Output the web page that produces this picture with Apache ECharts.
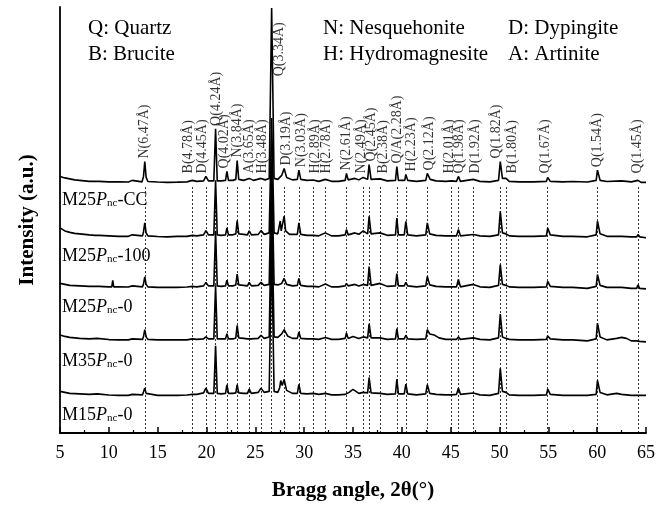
<!DOCTYPE html>
<html>
<head>
<meta charset="utf-8">
<script src="https://cdn.jsdelivr.net/npm/echarts@6/dist/echarts.min.js"></script>
<style>html,body{margin:0;padding:0;background:#fff}#c{width:658px;height:506px}</style>
</head>
<body>
<div id="c"></div>
<script>
// ---------- DATA ----------
const xTicks = [5, 10, 15, 20, 25, 30, 35, 40, 45, 50, 55, 60, 65];
const sampleNames = ['-CC', '-100', '-0', '-0', '-0'];
const samplePrefix = ['M25', 'M25', 'M25', 'M35', 'M15'];
const sampleOffsets = [253, 198, 147, 94, 38];   // vertical stacking offsets (a.u.)

const peakLabels = ['N(6.47Å)','B(4.78Å)','D(4.45Å)','Q(4.24Å)','Q(4.02Å)','N(3.84Å)','A(3.65Å)','H(3.48Å)','Q(3.34Å)',
  'D(3.19Å)','N(3.03Å)','H(2.89Å)','H(2.78Å)','N(2.61Å)','N(2.49Å)','Q(2.45Å)','B(2.38Å)','Q/A(2.28Å)','H(2.23Å)',
  'Q(2.12Å)','H(2.01Å)','Q(1.98Å)','D(1.92Å)','Q(1.82Å)','B(1.80Å)','Q(1.67Å)','Q(1.54Å)','Q(1.45Å)'];
const peakAngles = [13.68,18.55,19.94,20.93,22.09,23.14,24.37,25.58,26.67,27.95,29.46,30.92,32.17,34.33,36.04,36.65,37.77,
  39.49,40.41,42.61,45.07,45.79,47.31,50.08,50.67,54.94,60.03,64.18];

const legendLines = [['Q: Quartz','N: Nesquehonite','D: Dypingite'],['B: Brucite','H: Hydromagnesite','A: Artinite']];

const traceCC = [[5,6],[5.5,4.5],[6,3.5],[6.5,2.5],[7,2],[7.5,1.5],[8,1],[8.6,1],[8.8,2.5],[9,1],[10,0.5],[11,0.5],[12,0.3],[12.4,2],[12.6,0.5],[13.4,0.5],[13.55,6],[13.68,21],[13.82,5],[14,0.8],[15,0.3],[16,0],[17,0.2],[18,0.5],[18.55,2],[19,1],[19.7,1.5],[19.94,6],[20.2,1.5],[20.75,1.5],[20.93,54],[21.1,1.5],[21.5,1.5],[21.95,2],[22.09,11],[22.25,2],[22.7,2],[23.0,3],[23.14,22],[23.3,3],[23.8,2],[24.37,4],[24.8,2],[25.2,3],[25.58,4],[26,2.5],[26.42,4],[26.67,176],[26.92,4],[27.3,3],[27.7,7],[27.95,14],[28.2,5],[28.8,2.5],[29.3,3],[29.46,12.3],[29.65,3],[30.3,2],[30.92,2.3],[31.5,1],[32.17,3],[32.8,1],[33.5,1],[34.2,2],[34.33,9],[34.5,2.5],[35.2,4],[35.6,2.5],[36.04,5],[36.5,3],[36.65,18],[36.85,3],[37.77,3.5],[38.5,1.5],[39.35,2],[39.49,16],[39.65,2],[40.3,2],[40.41,8],[40.6,2],[41.5,1],[42.45,2],[42.61,9],[42.9,3],[43.5,1.5],[44.5,1],[45.07,1.5],[45.6,1],[45.79,6],[46,1],[47.31,3],[48,1],[49,0.5],[49.9,2],[50.08,21],[50.3,4],[50.67,4],[51,1],[52,0.5],[53.5,0.5],[54.8,1],[54.94,5],[55.2,1],[56.5,0.5],[57.5,0.8],[59,0.3],[59.9,2],[60.03,12.3],[60.3,2],[61,0.8],[62.5,1.5],[63.5,0.5],[64.18,2],[64.5,0],[65,0]];
const trace100 = [[5,9],[5.5,6],[6,4.5],[6.5,3.5],[7,3],[7.5,2.5],[8,2],[8.6,1.5],[8.8,3],[9,1.5],[10,1],[11,0.5],[12,0.5],[12.4,2],[12.6,0.5],[13.45,1],[13.55,5],[13.68,14],[13.82,4],[14,1],[15,0.3],[16,0],[17,0.5],[18,0.5],[18.55,1.5],[19,1],[19.7,2],[19.94,6.3],[20.2,2],[20.75,2],[20.93,57],[21.1,2],[21.5,1.5],[21.95,2],[22.09,9],[22.25,2],[22.7,2],[23.0,3],[23.14,16.3],[23.3,3],[23.8,2.5],[24.2,2],[24.37,6],[24.6,2],[25.3,2.5],[25.58,6.3],[25.9,2.5],[26.42,4],[26.67,120],[26.92,4],[27.3,3],[27.45,5],[27.55,16],[27.65,6],[27.8,7],[27.95,21],[28.1,6],[28.5,2.5],[29.3,2.5],[29.46,14],[29.65,2.5],[30.3,1.5],[30.92,1.5],[31.5,1],[32.17,4],[32.8,1],[33.5,1],[34.2,2],[34.33,7.3],[34.5,2],[35.2,4],[35.6,2.5],[36.04,6],[36.5,3],[36.65,20.7],[36.85,3],[37.77,4],[38.5,1.5],[39.35,2],[39.49,19],[39.65,2],[40.25,2],[40.41,15.7],[40.6,2],[41.5,1],[42.45,2],[42.61,14],[42.85,3],[43.5,1.5],[44.5,1],[45.07,1],[45.6,1],[45.79,7.3],[46,1],[47.31,2.3],[48,1],[49,0.5],[49.9,2],[50.08,25.7],[50.3,4],[50.67,3],[51,1],[52,0.5],[53.5,0.5],[54.8,1],[54.94,9],[55.2,2],[56.5,0.5],[57.5,0.5],[59,0],[59.9,2],[60.03,15.7],[60.3,3],[61,0.5],[62.5,0.5],[63.5,0],[64.05,0],[64.18,2.3],[64.35,0],[65,-1]];
const traceM25 = [[5,4],[5.5,3],[6,2],[7,1.5],[8,1],[8.6,1],[8.8,2],[9,1],[10,0.5],[10.3,0.5],[10.4,7],[10.5,0.5],[11,0.5],[12,0.3],[12.4,1.5],[12.6,0.3],[13.45,0.5],[13.55,3.5],[13.68,10.7],[13.82,3],[14,0.5],[15,0],[16,0],[17,0],[18,0.3],[18.55,1],[19,0.5],[19.7,1.5],[19.94,5],[20.2,1.5],[20.75,1.5],[20.93,57],[21.1,1.5],[21.5,1],[21.95,1.5],[22.09,7.3],[22.25,1.5],[22.7,1.5],[23.0,2.5],[23.14,13.3],[23.3,2.5],[23.8,2],[24.2,1.5],[24.37,5],[24.6,1.5],[25.3,2],[25.58,5],[25.9,2],[26.42,3],[26.67,130],[26.92,3],[27.3,2.5],[27.7,4],[27.95,9],[28.2,3],[28.8,1.5],[29.3,2],[29.46,9],[29.65,2],[30.3,1],[30.92,1],[31.5,0.5],[32.17,3.3],[32.8,0.5],[33.5,0.5],[34.2,1.5],[34.33,4],[34.5,1.5],[35.2,3],[35.6,1.5],[36.04,3],[36.5,2],[36.65,21],[36.85,2],[37.77,4],[38.5,1],[39.35,1.5],[39.49,14],[39.65,1.5],[40.25,1.5],[40.41,5],[40.6,1.5],[41.5,0.5],[42.45,1.5],[42.61,11],[42.85,2.5],[43.5,1],[44.5,0.5],[45.07,0.5],[45.6,0.5],[45.79,8],[46,0.5],[47.31,3],[48,0.5],[49,0],[49.9,2],[50.08,23],[50.3,3],[50.67,2],[51,0.5],[52,0],[53.5,0],[54.8,0.5],[54.94,6],[55.2,1],[56.5,0],[57.5,0],[59,-1],[59.9,1],[60.03,13],[60.3,2],[61,0],[62.5,0],[63.5,-1],[64.05,-1],[64.18,2.5],[64.35,-1],[65,-1.5]];
const traceM35 = [[5,5],[5.5,3.5],[6,2.5],[7,1.5],[8,1],[8.8,1.5],[9,0.5],[10,0.3],[11,0],[12,0],[12.4,1],[12.6,0],[13.45,0.5],[13.55,3.5],[13.68,10.3],[13.82,3],[14,0.5],[15,0],[16,0],[17,0],[18,0],[18.55,1],[19,0.5],[19.7,1],[19.94,3],[20.2,1],[20.75,1],[20.93,55],[21.1,1],[21.5,1],[21.95,1],[22.09,6.3],[22.25,1],[22.7,1],[23.0,2],[23.14,14.7],[23.3,2],[23.8,1.5],[24.2,1],[24.37,3],[24.6,1],[25.3,1.5],[25.58,4.7],[25.9,1.5],[26.42,3],[26.67,140],[26.92,3],[27.3,2.5],[27.7,6],[27.95,10.3],[28.3,4],[28.8,1.5],[29.3,1.5],[29.46,8],[29.65,1.5],[30.3,1],[30.92,1],[31.5,0.5],[32.17,2.3],[32.8,0.5],[33.5,0.5],[34.2,1.5],[34.33,7],[34.5,1.5],[35.0,3.5],[35.6,1.5],[36.04,3],[36.5,2],[36.65,16.3],[36.85,2],[37.77,2],[38.5,0.5],[39.35,1],[39.49,11.3],[39.65,1],[40.25,1],[40.41,4.7],[40.6,1],[41.5,0.5],[42.45,1],[42.61,10.3],[42.85,6],[43.3,5],[43.8,2],[44.5,0.5],[45.07,0.5],[45.6,0.5],[45.79,3],[46,0.5],[47.31,2],[48,0.5],[49,0],[49.9,2],[50.08,26],[50.3,3],[50.67,1.5],[51,0.5],[52,0],[53.5,0],[54.8,0.5],[54.94,4],[55.2,1],[56.5,0],[57.5,0],[59,-1],[59.9,1],[60.03,17],[60.3,3],[61,0],[62,1.5],[62.5,2.5],[63,1.5],[63.5,-1],[64.05,-1],[64.18,1],[64.35,-1.5],[65,-2]];
const traceM15 = [[5,4],[5.5,3],[6,2],[7,1.5],[8,1],[8.8,1.5],[9,0.5],[10,0.3],[11,0],[12,0],[12.4,1],[12.6,0],[13.45,0.5],[13.55,2.5],[13.68,7.3],[13.82,2],[14,0.5],[15,0],[16,0],[17,0],[18,0.3],[18.55,1],[19,1],[19.7,2.5],[19.94,7.3],[20.2,2],[20.75,2],[20.93,50],[21.1,2],[21.5,1.5],[21.95,2],[22.09,10.7],[22.25,2],[22.7,2],[23.0,2.5],[23.14,10.7],[23.3,2.5],[23.8,2],[24.2,2],[24.37,6.3],[24.6,2],[25.3,3],[25.58,7.3],[25.9,3],[26.42,4],[26.67,150],[26.92,4],[27.3,3],[27.5,8],[27.6,15],[27.75,10],[27.95,16],[28.2,5],[28.8,2],[29.3,2],[29.46,11],[29.65,2],[30.3,1.5],[30.92,2],[31.5,1],[32.17,2],[32.8,0.5],[33.5,0.5],[34.2,1],[34.33,3],[34.6,3],[35.0,6],[35.6,2],[36.04,3],[36.5,2.5],[36.65,18],[36.85,2.5],[37.77,2],[38.5,1],[39.35,1.5],[39.49,16.3],[39.65,1.5],[40.25,1.5],[40.41,11.3],[40.6,1.5],[41.5,0.5],[42.45,1.5],[42.61,10.7],[42.85,2],[43.5,1],[44.5,0.5],[45.07,0.5],[45.6,1],[45.79,7.3],[46,1],[47.31,2.3],[48,0.5],[49,0],[49.9,2],[50.08,27.3],[50.3,4],[50.67,3],[51,0.5],[52,0],[53.5,0],[54.8,0.5],[54.94,6.3],[55.2,1],[56.5,0],[57.5,0],[59,0],[59.9,1],[60.03,15],[60.3,3],[61,0.5],[62,2],[62.5,1],[63.5,0],[64.05,0],[64.18,2],[64.35,0],[65,0]];
const traces = [traceCC, trace100, traceM25, traceM35, traceM15];

// ---------- STYLE / LAYOUT ----------
const FONT = "'Liberation Serif','Times New Roman',serif";
const labelNudge = [0,-4,-4,1,-3,0,0,1,8,2,2,2,1,0,-2,2,3,0,5,2,-2,1,2,-4,6,-2,0,-1]; // px, sideways
const labelGapPx = 3, labelFloor = 262, dashTop = 250;
const labelBaseOverride = {8: 360};
const X0 = 60, X1 = 646, YTOP = 7, YBOT = 437;
const nameTop = [189, 245, 296, 350, 404];

// build label items from top trace apex
const labelItems = peakAngles.map((a, i) => {
  let apex = 0;
  traceCC.forEach(p => { if (Math.abs(p[0] - a) < 0.2 && p[1] > apex) apex = p[1]; });
  let base = Math.max(sampleOffsets[0] + apex + labelGapPx, labelFloor);
  if (labelBaseOverride[i] !== undefined) base = labelBaseOverride[i];
  // offset is in the rotated text frame: second component moves the label sideways
  return { value: [a, base], name: peakLabels[i], label: { offset: [0, labelNudge[i]] } };
});

const series = traces.map((t, k) => ({
  type: 'line', data: t.map(p => [p[0], p[1] + sampleOffsets[k]]),
  showSymbol: false, symbol: 'none', lineStyle: { color: '#000', width: 1.6 },
  z: 3, silent: true, animation: false
}));

series.push({
  type: 'line', data: [], silent: true, animation: false,
  markLine: {
    symbol: 'none', silent: true, animation: false,
    label: { show: false },
    lineStyle: { color: '#000', width: 0.8, type: [2, 2] },
    data: peakAngles.map(a => [{ coord: [a, 0] }, { coord: [a, dashTop] }])
  }, z: 2
});

series.push({
  type: 'scatter', data: labelItems, symbolSize: 0, silent: true, animation: false, z: 5,
  label: {
    show: true, formatter: p => p.name, position: [0, 0], rotate: 90,
    align: 'left', verticalAlign: 'middle', color: '#000', fontSize: 14, fontFamily: FONT
  }
});

const graphics = [];
const legendX = [88, 323, 508];
legendLines.forEach((row, r) => row.forEach((txt, c) => {
  graphics.push({ type: 'text', left: legendX[c], top: 18 + r * 26,
    style: { text: txt, fontSize: 21, fontFamily: FONT, fill: '#000' } });
}));
sampleNames.forEach((n, k) => {
  graphics.push({ type: 'text', left: 62, top: nameTop[k],
    style: { text: `{a|${samplePrefix[k]}}{i|P}{s|nc}{a|${n}}`,
      rich: {
        a: { fontSize: 18, fontFamily: FONT, fill: '#000', verticalAlign: 'bottom', lineHeight: 20 },
        i: { fontSize: 18, fontFamily: FONT, fontStyle: 'italic', fill: '#000', verticalAlign: 'bottom', lineHeight: 20 },
        s: { fontSize: 11, fontFamily: FONT, fill: '#000', verticalAlign: 'bottom', lineHeight: 11, padding: [9, 0, 0, 0] }
      } } });
});

const chart = echarts.init(document.getElementById('c'), null, { renderer: 'canvas' });
chart.setOption({
  animation: false,
  backgroundColor: '#fff',
  grid: { left: X0, right: 658 - X1, top: YTOP, bottom: 506 - YBOT, containLabel: false },
  xAxis: {
    type: 'value', min: xTicks[0], max: xTicks[xTicks.length - 1], interval: 5,
    name: 'Bragg angle, 2θ(°)', nameLocation: 'middle', nameGap: 47,
    nameTextStyle: { fontSize: 21, fontWeight: 'bold', fontFamily: FONT, color: '#000' },
    axisLine: { show: true, onZero: false, lineStyle: { color: '#000', width: 1.8 } },
    axisTick: { show: true, inside: true, length: 6, lineStyle: { color: '#000', width: 1.5 } },
    minorTick: { show: true, splitNumber: 2, length: 3, lineStyle: { color: '#000', width: 1.2 } },
    axisLabel: { fontSize: 18, fontFamily: FONT, color: '#000', margin: 11 },
    splitLine: { show: false }, minorSplitLine: { show: false }
  },
  yAxis: {
    type: 'value', min: 0, max: 430,
    name: 'Intensity (a.u.)', nameLocation: 'middle', nameGap: 22,
    nameTextStyle: { fontSize: 21, fontWeight: 'bold', fontFamily: FONT, color: '#000' },
    axisLine: { show: true, lineStyle: { color: '#000', width: 1.8 } },
    axisTick: { show: false }, axisLabel: { show: false }, splitLine: { show: false }
  },
  graphic: graphics,
  series: series
});
</script>
</body>
</html>
